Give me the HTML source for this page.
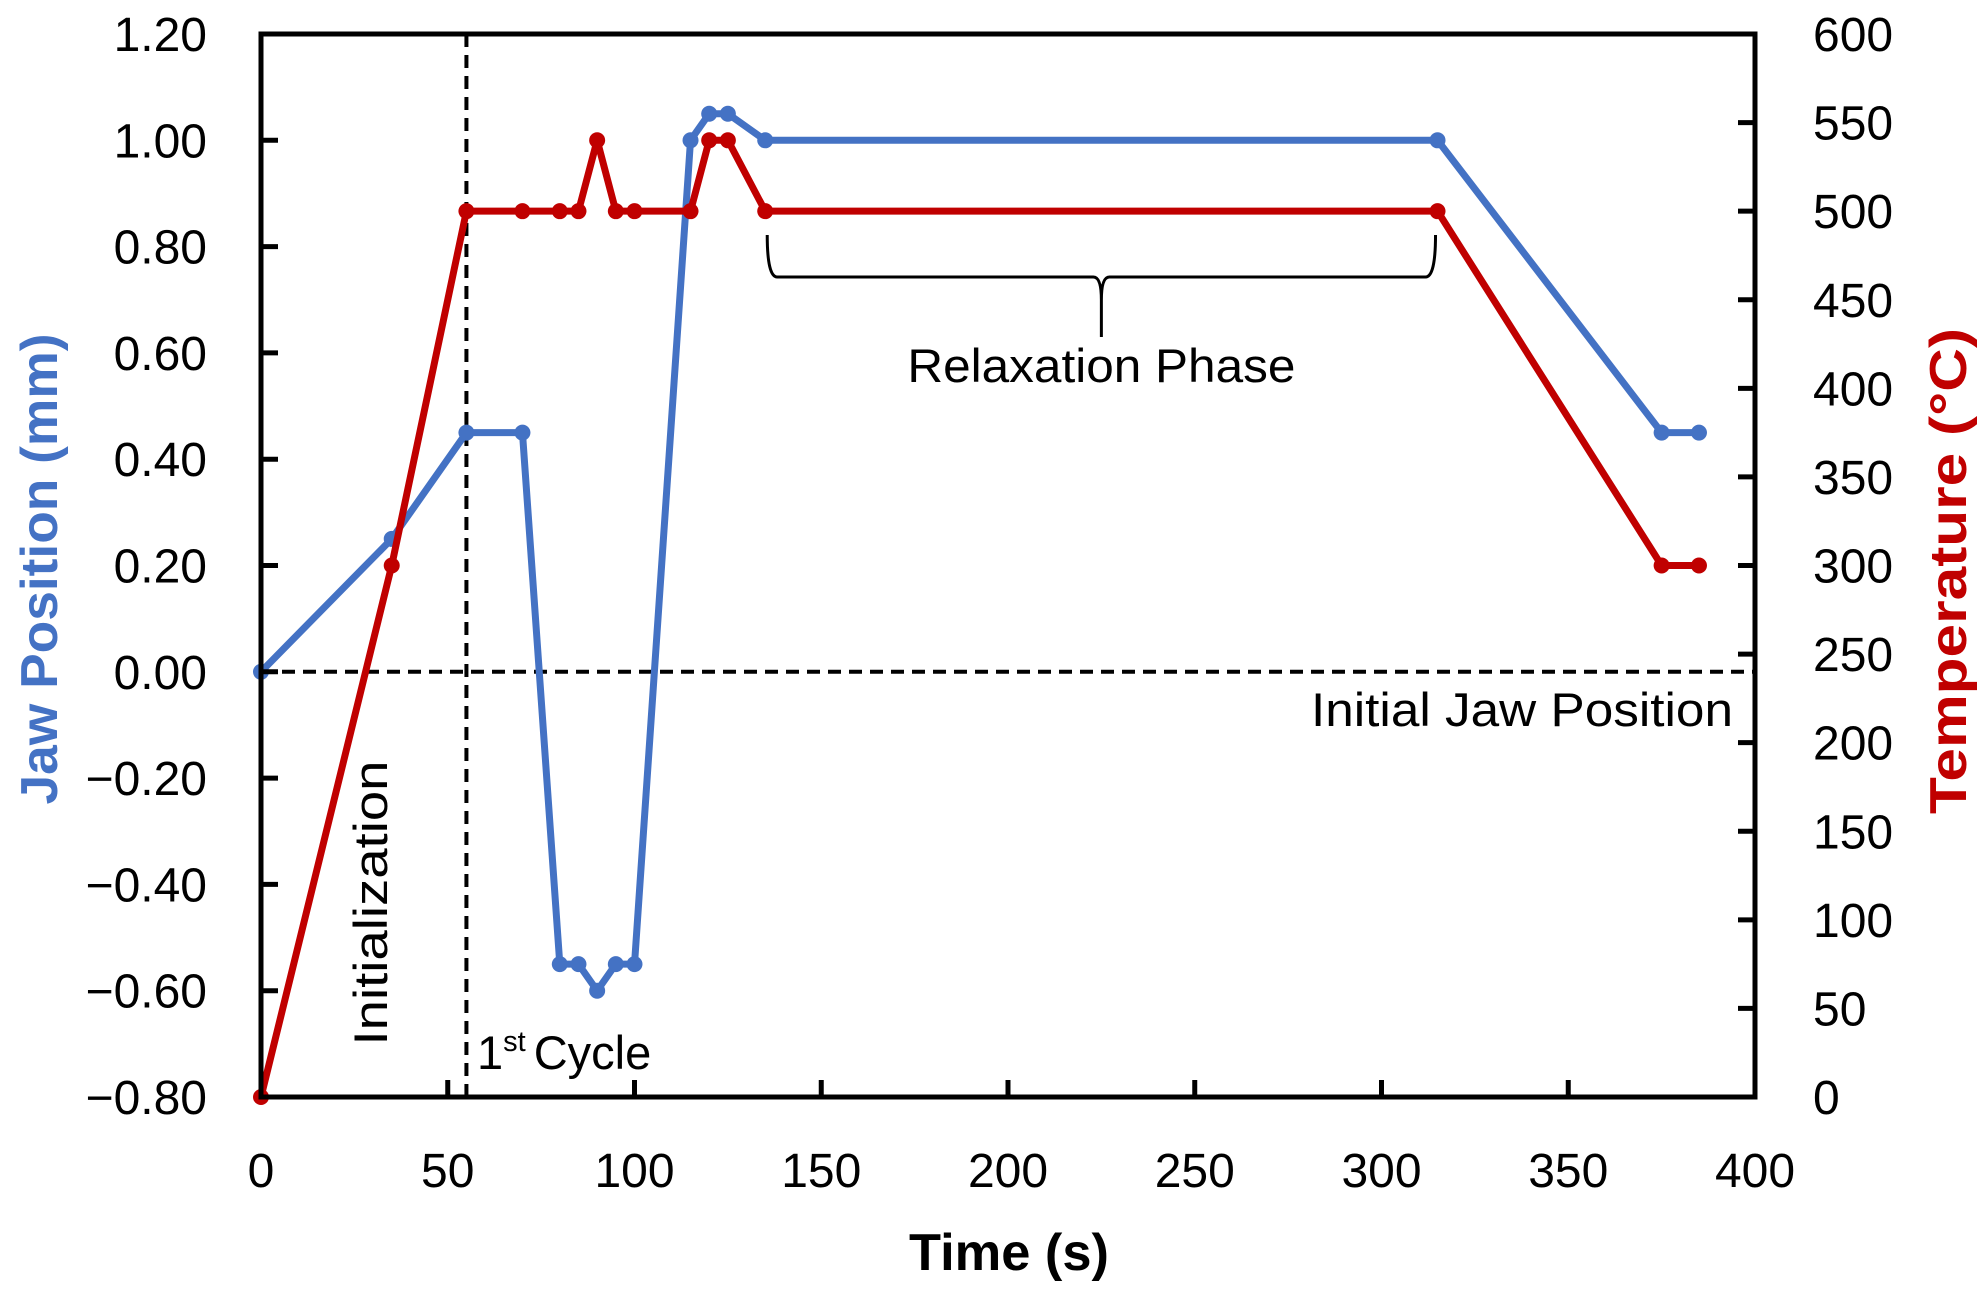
<!DOCTYPE html>
<html><head><meta charset="utf-8"><style>
html,body{margin:0;padding:0;background:#fff;}
svg{display:block;font-family:"Liberation Sans",sans-serif;}
</style></head><body>
<svg id="chart" width="1986" height="1291" viewBox="0 0 1986 1291">
<g id="grid"></g>
<g id="series"></g>
<g id="axes"></g>
</svg>
<script>
const times = [0,35,55,70,80,85,90,95,100,115,120,125,135,315,375,385];
const jawValues = [0,0.25,0.45,0.45,-0.55,-0.55,-0.60,-0.55,-0.55,1.00,1.05,1.05,1.00,1.00,0.45,0.45];
const tempValues = [0,300,500,500,500,500,540,500,500,500,540,540,500,500,300,300];
const xTicks = [0,50,100,150,200,250,300,350,400];
const yLeftTicks = [-0.8,-0.6,-0.4,-0.2,0,0.2,0.4,0.6,0.8,1.0,1.2];
const yRightTicks = [0,50,100,150,200,250,300,350,400,450,500,550,600];

const NS='http://www.w3.org/2000/svg';
const L=261,R=1755,T=34,B=1097;
const xs=t=>L+(t-0)/400*(R-L);
const yl=v=>B-(v+0.8)/2.0*(B-T);
const yr=v=>B-v/600*(B-T);
function mk(tag,attrs,parent,text){const e=document.createElementNS(NS,tag);for(const k in attrs)e.setAttribute(k,attrs[k]);if(text!==undefined)e.textContent=text;parent.appendChild(e);return e;}
const grid=document.getElementById('grid'),ser=document.getElementById('series'),ax=document.getElementById('axes');

let e=mk('line',{x1:L,x2:R,y1:yl(0),y2:yl(0),stroke:'#000','stroke-width':4,'stroke-dasharray':'13,8'},grid);


e=mk('line',{x1:xs(55),x2:xs(55),y1:T,y2:B,stroke:'#000','stroke-width':4,'stroke-dasharray':'13,8'},grid);


const bl=xs(135)+2,br=xs(315)-2,bc=(bl+br)/2;
e=mk('path',{d:`M${bl},235 Q${bl},277 ${bl+10},277 L${bc-8},277 Q${bc},277 ${bc},300 L${bc},337 M${bc},300 Q${bc},277 ${bc+8},277 L${br-10},277 Q${br},277 ${br},235`,fill:'none',stroke:'#000','stroke-width':3},grid);


e=mk('text',{x:bc,y:382,'font-size':47,'text-anchor':'middle',textLength:388,lengthAdjust:'spacingAndGlyphs'},grid,'Relaxation Phase');


e=mk('text',{x:1733,y:726,'font-size':47,'text-anchor':'end',textLength:422,lengthAdjust:'spacingAndGlyphs'},grid,'Initial Jaw Position');


e=mk('text',{x:0,y:0,'font-size':47,'text-anchor':'middle',textLength:285,lengthAdjust:'spacingAndGlyphs',transform:'translate(387,903) rotate(-90)'},grid,'Initialization');


e=mk('text',{x:477,y:1069,'font-size':47},grid);


mk('tspan',{},e,'1');mk('tspan',{'font-size':29,dy:-18},e,'st');mk('tspan',{dy:18,dx:8},e,'Cycle');

function drawSeries(vals,yf,color,name){
  const pts=times.map((t,i)=>xs(t)+','+yf(vals[i])).join(' ');
  let p=mk('polyline',{points:pts,fill:'none',stroke:color,'stroke-width':7,'stroke-linejoin':'round'},ser);
  
  
  times.forEach((t,i)=>{
    const c=mk('circle',{cx:xs(t),cy:yf(vals[i]),r:8,fill:color},ser);
    
    
  });
}
drawSeries(jawValues,yl,'#4472C4','jaw-position');
drawSeries(tempValues,yr,'#C00000','temperature');

e=mk('rect',{x:L,y:T,width:R-L,height:B-T,fill:'none',stroke:'#000','stroke-width':5},ax);


xTicks.forEach(t=>{
  let l=mk('line',{x1:xs(t),x2:xs(t),y1:B,y2:B-17,stroke:'#000','stroke-width':5},ax);
  
  
  let s=mk('text',{x:xs(t),y:1187,'font-size':48,'text-anchor':'middle'},ax,String(t));
  
  
});
yLeftTicks.forEach(v=>{
  let l=mk('line',{x1:L,x2:L+17,y1:yl(v),y2:yl(v),stroke:'#000','stroke-width':5},ax);
  
  
  const lab=(v<0?'\u2212':'')+Math.abs(v).toFixed(2);
  let s=mk('text',{x:207,y:yl(v)+17,'font-size':48,'text-anchor':'end'},ax,lab);
  
  
});
yRightTicks.forEach(v=>{
  let l=mk('line',{x1:R,x2:R-17,y1:yr(v),y2:yr(v),stroke:'#000','stroke-width':5},ax);
  
  
  let s=mk('text',{x:1813,y:yr(v)+17,'font-size':48,'text-anchor':'start'},ax,String(v));
  
  
});
e=mk('text',{x:1009,y:1270,'font-size':52,'font-weight':'bold','text-anchor':'middle',textLength:200,lengthAdjust:'spacingAndGlyphs'},ax,'Time (s)');


e=mk('text',{x:0,y:0,'font-size':52,'font-weight':'bold','text-anchor':'middle',fill:'#4472C4',textLength:471,lengthAdjust:'spacingAndGlyphs',transform:'translate(57,569) rotate(-90)'},ax,'Jaw Position (mm)');


e=mk('text',{x:0,y:0,'font-size':52,'font-weight':'bold','text-anchor':'middle',fill:'#C00000',textLength:486,lengthAdjust:'spacingAndGlyphs',transform:'translate(1966,571) rotate(-90)'},ax,'Temperature (°C)');


</script>
</body></html>
